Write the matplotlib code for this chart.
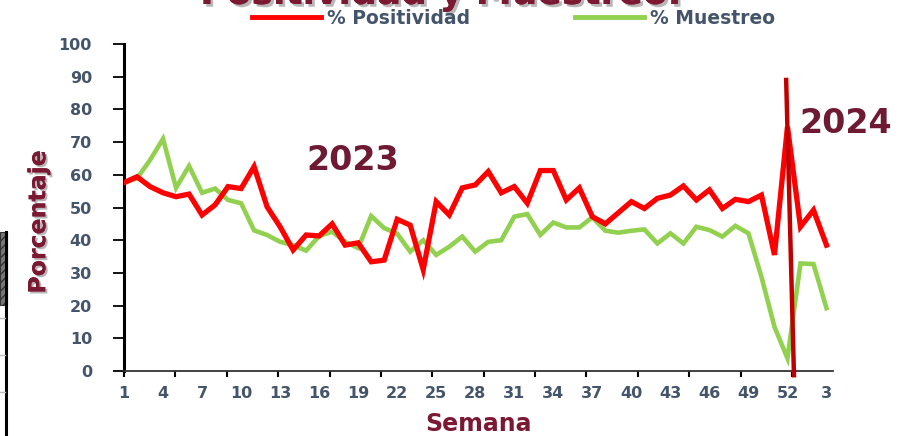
import numpy as np
import matplotlib
matplotlib.use("Agg")
import matplotlib.pyplot as plt
import matplotlib.patheffects as pe
from matplotlib.patches import Rectangle
from matplotlib.lines import Line2D

# semanas: 2023 (1-52) + 2024 (1-3)
semanas = list(range(1, 53)) + [1, 2, 3]

positividad = [57.6, 59.4, 56.4, 54.5, 53.3, 54.1, 47.7, 50.8, 56.4, 55.8,
               62.5, 50.2, 44.1, 37.0, 41.6, 41.3, 45.0, 38.5, 39.2, 33.4,
               33.9, 46.4, 44.6, 31.0, 51.8, 47.7, 56.0, 56.9, 61.0, 54.5,
               56.4, 51.3, 61.3, 61.3, 52.3, 56.0, 47.2, 45.0, 48.4, 51.8,
               49.7, 52.8, 53.8, 56.6, 52.3, 55.4, 49.7, 52.5, 51.8, 53.8,
               35.5, 74.7, 44.1, 49.2, 38.5]

muestreo = [57.6, 58.9, 64.5, 71.0, 56.0, 62.7, 54.5, 55.8, 52.3, 51.3,
            43.0, 41.6, 39.5, 38.5, 36.8, 41.3, 42.6, 39.5, 37.6, 47.4,
            43.7, 42.0, 36.5, 40.0, 35.5, 38.0, 41.1, 36.5, 39.5, 40.0,
            47.2, 48.0, 41.6, 45.4, 43.9, 43.9, 47.0, 42.9, 42.3, 42.9,
            43.3, 39.0, 42.1, 39.0, 44.1, 43.1, 41.1, 44.4, 42.1, 28.8,
            13.5, 3.9, 32.9, 32.7, 19.2]

rojo = "#FF0000"
verde = "#92D050"
vino = "#7B1832"
gris_azul = "#44546A"

x = np.arange(len(semanas))

fig = plt.figure(figsize=(9.1, 4.36), dpi=100)
ax = fig.add_axes([124/910, 1-371/436, 709/910, 327/436])

ax.plot(x, positividad, color=rojo, lw=3.8, solid_joinstyle="miter", zorder=3)
ax.plot(x, muestreo, color=verde, lw=3.3, solid_joinstyle="miter", zorder=2)

# linea divisoria entre 2023 y 2024
sep = semanas.index(52)
ax.plot([sep - 0.1, sep + 0.5], [89, -1.3], color="#C00000", lw=3.2,
        clip_on=False, zorder=4)

ax.set_xlim(0, 54.5)
ax.set_ylim(0, 100)
ax.set_yticks(range(0, 101, 10))
ax.xaxis.remove_overlapping_locs = False
ax.set_xticks(np.arange(0, 54, 3.95))
ax.set_xticklabels([])
ax.set_xticks(x[::3], minor=True)
ax.set_xticklabels([str(s) for s in semanas[::3]], minor=True)
ax.tick_params(axis="x", which="major", length=4, width=1.5, color="black")
ax.tick_params(axis="x", which="minor", length=0, pad=11, labelsize=11.5,
               labelcolor=gris_azul)
ax.tick_params(axis="y", length=8, width=1.3, pad=15, labelsize=11.5,
               labelcolor=gris_azul)
for lab in ax.get_xticklabels(minor=True) + ax.get_yticklabels():
    lab.set_fontweight("bold")

for s in ["top", "right"]:
    ax.spines[s].set_visible(False)
ax.spines["left"].set_linewidth(2.2)
ax.spines["bottom"].set_linewidth(1.3)
ax.spines["bottom"].set_color("#333333")

ax.set_xlabel("Semana", fontsize=17, fontweight="bold", color=vino, labelpad=8)
ax.set_ylabel("Porcentaje", fontsize=17, fontweight="bold", color=vino,
              path_effects=[pe.withSimplePatchShadow(offset=(1.5, -1.5),
                                                     shadow_rgbFace="#888888", alpha=0.6),
                            pe.Normal()])
ax.yaxis.set_label_coords(-0.104, 0.456)

ax.text(17.6, 64.5, "2023", fontsize=24, fontweight="bold", color="#6E1A33",
        ha="center", va="center")
ax.text(55.5, 75.8, "2024", fontsize=24, fontweight="bold", color="#6E1A33",
        ha="center", va="center", clip_on=False)

fig.text(441/910, 1-4/436, "Positividad y Muestreo.", fontsize=26, fontweight="bold",
         color=vino, ha="center", va="baseline",
         path_effects=[pe.withSimplePatchShadow(offset=(2, -2),
                                                shadow_rgbFace="#888888", alpha=0.6),
                       pe.Normal()])

handles = [Line2D([], [], color=rojo, lw=3.5), Line2D([], [], color=verde, lw=3.5)]
fig.legend(handles, ["% Positividad", "% Muestreo"], loc="center left",
           bbox_to_anchor=(235/910, 1-18/436), ncol=2, frameon=False,
           handlelength=3.7, handletextpad=0.3, columnspacing=5.6,
           prop={"size": 13.5, "weight": "bold"}, labelcolor=gris_azul)

# recorte de otro objeto al borde izquierdo
fig.add_artist(Rectangle((0, 1-305/436), 7/910, 73/436, transform=fig.transFigure,
                         facecolor="#777777", edgecolor="#333333", hatch="////", lw=0.8))
fig.add_artist(Line2D([6/910, 6/910], [0, 1-232/436], transform=fig.transFigure,
                      color="black", lw=2.2))
for yy in [318, 355, 392]:
    fig.add_artist(Line2D([0, 5/910], [1-yy/436, 1-yy/436], transform=fig.transFigure,
                          color="#BBBBBB", lw=1))

fig.savefig("out.png", dpi=100)
